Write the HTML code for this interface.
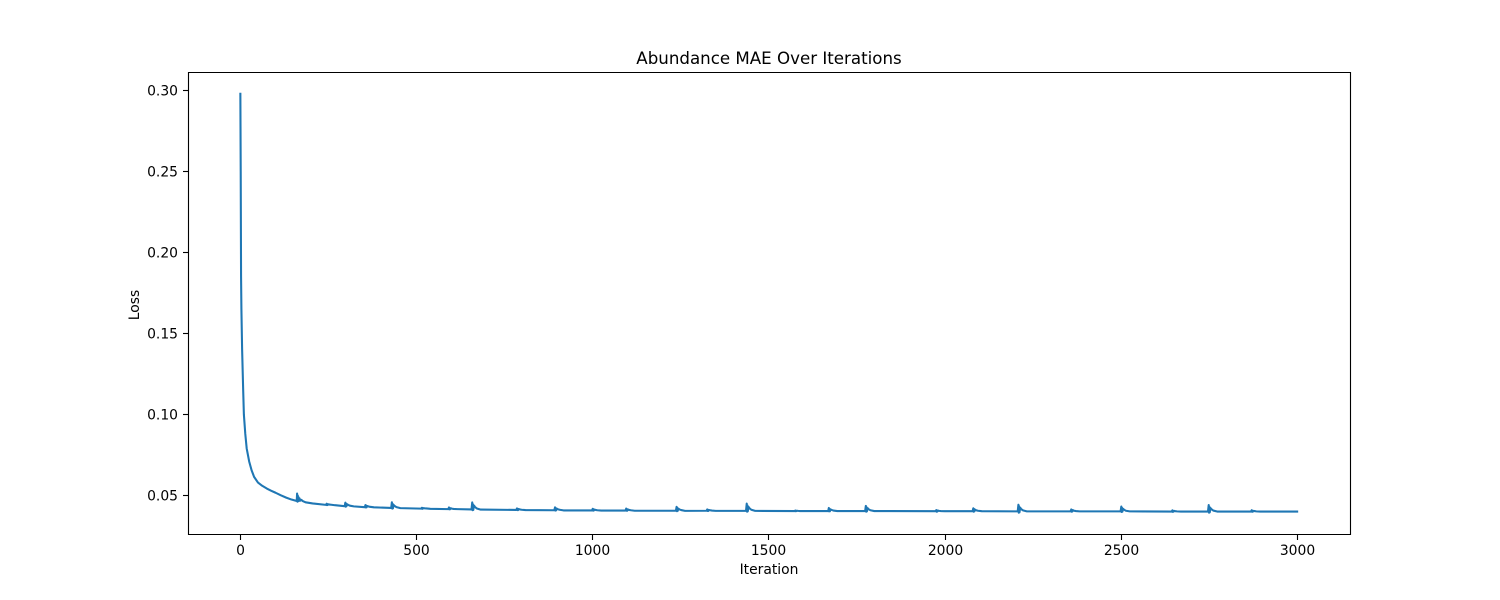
<!DOCTYPE html>
<html lang="en">
<head>
<meta charset="utf-8">
<title>Abundance MAE Over Iterations</title>
<style>
  html, body { margin: 0; padding: 0; background: #fff; }
  svg { display: block; }
  text { font-family: "DejaVu Sans", "Liberation Sans", sans-serif; fill: #000; }
</style>
</head>
<body>
<svg id="chart" xmlns="http://www.w3.org/2000/svg" width="1500" height="600" viewBox="0 0 1500 600">
  <rect x="0" y="0" width="1500" height="600" fill="#ffffff"/>
  <rect x="188" y="72" width="1162" height="462" fill="#ffffff"/>
  <g id="ticks"></g>
  <polyline id="series" fill="none" stroke="#1f77b4" stroke-width="2.08" stroke-linejoin="round" stroke-linecap="square"/>
  <g stroke="#000" stroke-width="1.11" fill="none">
    <line x1="188.5" y1="72" x2="188.5" y2="535"/>
    <line x1="1350.5" y1="72" x2="1350.5" y2="535"/>
    <line x1="188" y1="72.5" x2="1351" y2="72.5"/>
    <line x1="188" y1="534.5" x2="1351" y2="534.5"/>
  </g>
  <text x="769" y="64" font-size="16.67" text-anchor="middle">Abundance MAE Over Iterations</text>
  <text x="769" y="574" font-size="13.89" text-anchor="middle">Iteration</text>
  <text transform="translate(139 305) rotate(-90)" font-size="13.89" text-anchor="middle">Loss</text>
</svg>
<script>
const xTickValues = [0, 500, 1000, 1500, 2000, 2500, 3000];
const xTickLabels = ["0", "500", "1000", "1500", "2000", "2500", "3000"];
const yTickValues = [0.05, 0.10, 0.15, 0.20, 0.25, 0.30];
const yTickLabels = ["0.05", "0.10", "0.15", "0.20", "0.25", "0.30"];

const iterations = [
  0, 1, 2, 3, 5, 8, 10, 14, 18, 25, 32, 39, 50, 62, 75, 87, 100, 115, 130, 145,
  160, 161, 162, 163, 164, 165, 166, 168, 170, 173, 177, 185, 205,
  243, 244, 245, 246, 247, 248, 250, 253, 258, 269,
  296, 297, 298, 299, 300, 301, 303, 306, 311, 322,
  353, 354, 355, 356, 357, 358, 360, 363, 368, 379,
  428, 429, 430, 431, 432, 433, 435, 438, 443, 454,
  513, 514, 515, 516, 517, 518, 520, 523, 528, 539,
  590, 591, 592, 593, 594, 595, 597, 600, 605, 616,
  656, 657, 658, 659, 660, 661, 663, 666, 671, 682,
  783, 784, 785, 786, 787, 788, 790, 793, 798, 809,
  891, 892, 893, 894, 895, 896, 898, 901, 906, 917,
  998, 999, 1000, 1001, 1002, 1003, 1005, 1008, 1013, 1024,
  1093, 1094, 1095, 1096, 1097, 1098, 1100, 1103, 1108, 1119,
  1236, 1237, 1238, 1239, 1240, 1241, 1243, 1246, 1251, 1262,
  1323, 1324, 1325, 1326, 1327, 1328, 1330, 1333, 1338, 1349,
  1435, 1436, 1437, 1438, 1439, 1440, 1442, 1445, 1450, 1461,
  1573, 1574, 1575, 1576, 1577, 1578, 1580, 1583, 1588, 1599,
  1668, 1669, 1670, 1671, 1672, 1673, 1675, 1678, 1683, 1694,
  1773, 1774, 1775, 1776, 1777, 1778, 1780, 1783, 1788, 1799,
  1973, 1974, 1975, 1976, 1977, 1978, 1980, 1983, 1988, 1999,
  2078, 2079, 2080, 2081, 2082, 2083, 2085, 2088, 2093, 2104,
  2206, 2207, 2208, 2209, 2210, 2211, 2213, 2216, 2221, 2232,
  2356, 2357, 2358, 2359, 2360, 2361, 2363, 2366, 2371, 2382,
  2498, 2499, 2500, 2501, 2502, 2503, 2505, 2508, 2513, 2524,
  2643, 2644, 2645, 2646, 2647, 2648, 2650, 2653, 2658, 2669,
  2746, 2747, 2748, 2749, 2750, 2751, 2753, 2756, 2761, 2772,
  2868, 2869, 2870, 2871, 2872, 2873, 2875, 2878, 2883, 2894,
  2999
];
const lossValues = [
  0.2980, 0.2500, 0.1850, 0.1650, 0.1400, 0.1150, 0.1000, 0.0880, 0.0790, 0.0710, 0.0655, 0.0615, 0.0580, 0.0560, 0.0543, 0.0530, 0.0517, 0.0501, 0.0487, 0.0475,
  0.0466, 0.0512, 0.0462, 0.0500, 0.0464, 0.0490, 0.0466, 0.0482, 0.0468, 0.0473, 0.0466, 0.0458, 0.0451,
  0.0442, 0.0446, 0.0449, 0.0441, 0.0447, 0.0442, 0.0446, 0.0444, 0.0443, 0.0440,
  0.0434, 0.0445, 0.0456, 0.0431, 0.0450, 0.0433, 0.0446, 0.0442, 0.0437, 0.0433,
  0.0428, 0.0434, 0.0441, 0.0426, 0.0438, 0.0427, 0.0435, 0.0433, 0.0430, 0.0427,
  0.0423, 0.0440, 0.0458, 0.0419, 0.0449, 0.0421, 0.0442, 0.0435, 0.0428, 0.0422,
  0.0419, 0.0421, 0.0424, 0.0418, 0.0423, 0.0419, 0.0422, 0.0421, 0.0420, 0.0418,
  0.0416, 0.0421, 0.0426, 0.0415, 0.0423, 0.0415, 0.0421, 0.0419, 0.0417, 0.0416,
  0.0414, 0.0435, 0.0457, 0.0409, 0.0446, 0.0411, 0.0438, 0.0429, 0.0420, 0.0413,
  0.0411, 0.0415, 0.0420, 0.0410, 0.0418, 0.0410, 0.0416, 0.0414, 0.0412, 0.0410,
  0.0409, 0.0418, 0.0427, 0.0407, 0.0422, 0.0408, 0.0419, 0.0415, 0.0412, 0.0408,
  0.0408, 0.0413, 0.0418, 0.0407, 0.0415, 0.0407, 0.0413, 0.0411, 0.0409, 0.0407,
  0.0407, 0.0413, 0.0419, 0.0406, 0.0416, 0.0406, 0.0414, 0.0411, 0.0409, 0.0406,
  0.0406, 0.0418, 0.0430, 0.0403, 0.0424, 0.0405, 0.0419, 0.0414, 0.0410, 0.0405,
  0.0406, 0.0410, 0.0414, 0.0405, 0.0412, 0.0405, 0.0410, 0.0409, 0.0407, 0.0405,
  0.0405, 0.0428, 0.0450, 0.0400, 0.0439, 0.0402, 0.0430, 0.0421, 0.0412, 0.0405,
  0.0404, 0.0406, 0.0407, 0.0403, 0.0406, 0.0404, 0.0406, 0.0405, 0.0404, 0.0404,
  0.0404, 0.0413, 0.0423, 0.0402, 0.0418, 0.0403, 0.0414, 0.0411, 0.0407, 0.0404,
  0.0404, 0.0420, 0.0436, 0.0400, 0.0428, 0.0402, 0.0422, 0.0415, 0.0409, 0.0404,
  0.0403, 0.0407, 0.0410, 0.0400, 0.0408, 0.0401, 0.0407, 0.0405, 0.0404, 0.0403,
  0.0403, 0.0412, 0.0421, 0.0400, 0.0417, 0.0402, 0.0413, 0.0409, 0.0406, 0.0403,
  0.0402, 0.0423, 0.0443, 0.0394, 0.0433, 0.0396, 0.0425, 0.0416, 0.0408, 0.0402,
  0.0402, 0.0408, 0.0414, 0.0400, 0.0411, 0.0401, 0.0409, 0.0406, 0.0404, 0.0402,
  0.0402, 0.0417, 0.0432, 0.0398, 0.0424, 0.0400, 0.0418, 0.0412, 0.0406, 0.0402,
  0.0401, 0.0405, 0.0408, 0.0399, 0.0406, 0.0400, 0.0405, 0.0403, 0.0402, 0.0401,
  0.0401, 0.0421, 0.0441, 0.0394, 0.0431, 0.0396, 0.0423, 0.0415, 0.0407, 0.0401,
  0.0401, 0.0405, 0.0409, 0.0400, 0.0407, 0.0400, 0.0405, 0.0404, 0.0402, 0.0401,
  0.0401
];

const xDomain = [-150, 3149];
const xPixels = [187.5, 1350];
const yDomain = [0.05, 0.30];
const yPixels = [495.5, 90.5];

function xScale(v) {
  return xPixels[0] + (v - xDomain[0]) / (xDomain[1] - xDomain[0]) * (xPixels[1] - xPixels[0]);
}
function yScale(v) {
  return yPixels[0] + (v - yDomain[0]) / (yDomain[1] - yDomain[0]) * (yPixels[1] - yPixels[0]);
}

const NS = "http://www.w3.org/2000/svg";
const ticksGroup = document.getElementById("ticks");

xTickValues.forEach(function (value, i) {
  const px = Math.floor(xScale(value)) + 0.5;
  const mark = document.createElementNS(NS, "line");
  
  
  mark.setAttribute("x1", px);
  mark.setAttribute("x2", px);
  mark.setAttribute("y1", 534);
  mark.setAttribute("y2", 540);
  mark.setAttribute("stroke", "#000");
  mark.setAttribute("stroke-width", "1.11");
  ticksGroup.appendChild(mark);
  const label = document.createElementNS(NS, "text");
  
  
  label.setAttribute("x", px);
  label.setAttribute("y", 555);
  label.setAttribute("font-size", "13.89");
  label.setAttribute("text-anchor", "middle");
  label.textContent = xTickLabels[i];
  ticksGroup.appendChild(label);
});

yTickValues.forEach(function (value, i) {
  const py = Math.floor(yScale(value)) + 0.5;
  const mark = document.createElementNS(NS, "line");
  
  
  mark.setAttribute("x1", 183);
  mark.setAttribute("x2", 188);
  mark.setAttribute("y1", py);
  mark.setAttribute("y2", py);
  mark.setAttribute("stroke", "#000");
  mark.setAttribute("stroke-width", "1.11");
  ticksGroup.appendChild(mark);
  const label = document.createElementNS(NS, "text");
  
  
  label.setAttribute("x", 178);
  label.setAttribute("y", py + 5);
  label.setAttribute("font-size", "13.89");
  label.setAttribute("text-anchor", "end");
  label.textContent = yTickLabels[i];
  ticksGroup.appendChild(label);
});

const linePoints = iterations.map(function (it, i) {
  return xScale(it).toFixed(2) + "," + yScale(lossValues[i]).toFixed(2);
});
document.getElementById("series").setAttribute("points", linePoints.join(" "));
</script>
</body>
</html>
